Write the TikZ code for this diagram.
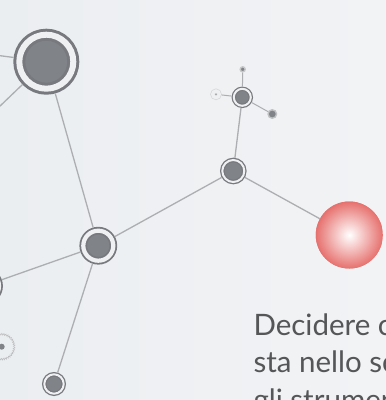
\documentclass[tikz,border=0pt]{standalone}
\usepackage{fontspec}
\setmainfont{Lato}
\usetikzlibrary{decorations.pathmorphing}

\definecolor{bgleft}{HTML}{EBEEF1}
\definecolor{bgright}{HTML}{F2F3F5}
\definecolor{gapcol}{HTML}{EEF0F2}
\definecolor{atomgray}{HTML}{808388}
\definecolor{ringgray}{HTML}{77797E}
\definecolor{bondgray}{HTML}{ACAEB1}
\definecolor{ballred}{HTML}{E6716E}
\definecolor{textgray}{HTML}{555658}

\begin{document}
\begin{tikzpicture}[x=1pt,y=-1pt]
  \tikzstyle{atom}=[circle, draw=ringgray, fill=atomgray, double=gapcol, inner sep=0pt]
  \tikzstyle{dot}=[circle, fill=atomgray, inner sep=0pt]
  \tikzstyle{every edge}=[draw=bondgray, line width=1.3pt]
  \tikzstyle{textline}=[anchor=base west, text=textgray, font=\fontsize{29.5}{34}\selectfont]

  \useasboundingbox (0,0) rectangle (386,400);
  \clip (0,0) rectangle (386,400);
  \shade[left color=bgleft, right color=bgright] (0,0) rectangle (386,400);

  % molecule
  \node[atom, line width=3pt, double distance=6pt, minimum size=54pt, outer sep=6pt]      (1) at (46.3,  61.7)  {};
  \node[atom, line width=1.8pt, double distance=4.2pt, minimum size=30pt, outer sep=3.9pt] (2) at (98.3,  245.7) {};
  \node[atom, line width=1.3pt, double distance=2pt, minimum size=22pt, outer sep=2.3pt]   (3) at (233.3, 171)   {};
  \node[atom, line width=1.2pt, double distance=2pt, minimum size=17pt, outer sep=2.2pt]   (4) at (242.3, 97.3)  {};
  \node[atom, line width=1.3pt, double distance=2pt, minimum size=19.4pt, outer sep=2.3pt] (5) at (54,    384)   {};
  \node[atom, line width=1.8pt, double distance=4.2pt, minimum size=30pt, outer sep=3.9pt] (6) at (-16,   286)   {};
  \node[circle, minimum size=67pt, inner sep=0pt, outer sep=0pt] (7) at (349.3, 235) {};
  \begin{scope}
    \clip (7.center) circle (33.5pt);
    \fill[ballred] ([shift={(-36pt,-36pt)}]7.center) rectangle ([shift={(36pt,36pt)}]7.center);
    \shade[inner color=white, outer color=ballred] (7.center) circle (33.5pt);
  \end{scope}

  \node[dot, draw=atomgray!45, line width=1.4pt, minimum size=5pt]  (8)  at (242.7, 69.3)  {};
  \node[dot, draw=atomgray!50, line width=1.4pt, minimum size=8.5pt] (9)  at (272.3, 114)   {};
  \node[atom, draw=ringgray!30, line width=0.7pt, double distance=3.3pt, minimum size=6.6pt, outer sep=2.3pt] (10) at (216, 94.3) {};
  \node[dot, minimum size=6pt] (11) at (1.7, 346.7) {};
  \draw[ringgray!50, line width=0.5pt, decorate, decoration={zigzag, segment length=2pt, amplitude=0.9pt}] (11.center) circle (12.5pt);

  \coordinate (a) at (-40, 50.5);
  \coordinate (b) at (-25, 130);

  \path (1) edge (a);
  \path (1) edge (b);
  \path (1) edge (2);
  \path (2) edge (6);
  \path (2) edge (5);
  \path (2) edge (3);
  \path (3) edge (4);
  \path (3) edge (7);
  \path (4) edge[line width=1pt] (8);
  \path (4) edge[line width=1pt] (9);
  \path (4) edge[line width=1pt] (10);

  % text
  \node[textline] (t1) at (250, 335)   {Decidere c};
  \node[textline] (t2) at (250, 372.5) {sta nello sc};
  \node[textline] (t3) at (250, 410)   {gli strumen};
\end{tikzpicture}
\end{document}
